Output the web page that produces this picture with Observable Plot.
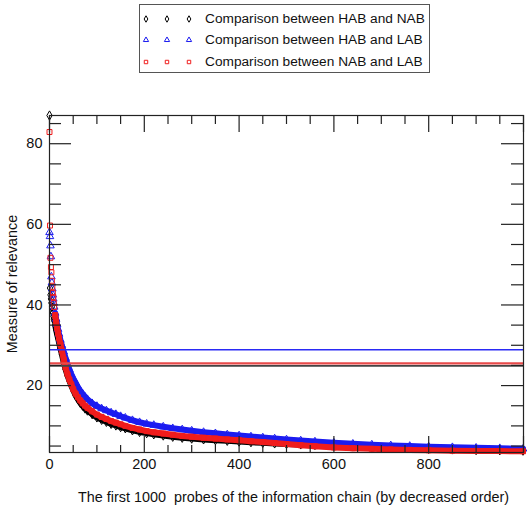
<!DOCTYPE html>
<html><head><meta charset="utf-8">
<script src="https://cdn.jsdelivr.net/npm/d3@7"></script>
<script src="https://cdn.jsdelivr.net/npm/@observablehq/plot@0.6"></script>
<style>
body{margin:0;background:#fff;font-family:"Liberation Sans",Arial,sans-serif;}
#legend{position:relative;height:90px;width:531px;}
#box{position:absolute;left:139px;top:4px;width:289px;height:67px;border:1.5px solid #555;}
.row{position:absolute;left:0;width:289px;height:20px;}
.row svg{position:absolute;left:0;top:0;}
.row span{position:absolute;left:65px;top:1px;font-size:13.7px;line-height:18px;color:#111;white-space:nowrap;}
</style>
</head><body>
<div id="legend"><div id="box"></div></div>
<div id="chart"></div>
<script>
const ranks = [0,1,2,3,4,5,6,7,8,9,10,12,14,16,18,20,23,26,30,34,38,42,46,50,55,60,65,70,75,80,90,100,110,120,130,140,150,160,175,190,205,220,240,260,280,300,325,350,375,400,425,450,475,500,530,560,600,640,680,720,760,800,850,900,950,999];
const habNab = [87,44.2,42.5,41.5,40.5,39.5,38.5,38,37.2,36.5,36,35,33.8,32.8,31.8,30.8,29.2,27.8,25.8,24,22.5,21.2,20,18.9,17.6,16.6,15.7,15.0,14.3,13.8,12.9,12.1,11.5,11.0,10.5,10.1,9.7,9.4,8.9,8.5,8.2,7.9,7.6,7.3,7.05,6.85,6.65,6.45,6.3,6.1,5.95,5.8,5.65,5.5,5.4,5.25,5.1,4.9,4.75,4.6,4.45,4.3,4.15,4.0,3.95,3.85];
const habLab = [58.0,57,54.7,52,47,45.5,44,42.5,41.5,40.5,39.5,38,36.5,35.2,34,32.8,31.3,30,28.4,26.8,25.3,24,22.8,21.8,20.7,19.6,18.7,17.9,17.2,16.6,15.6,14.9,14.3,13.8,13.3,12.9,12.4,12.0,11.4,10.9,10.5,10.2,9.8,9.4,9.1,8.8,8.45,8.15,7.85,7.6,7.35,7.1,6.85,6.6,6.35,6.1,5.8,5.55,5.35,5.15,5.0,4.85,4.7,4.55,4.45,4.3];
const nabLab = [82.9,59.7,51.7,49.4,48.1,46,44.5,43,42,40.5,39.5,37.5,35.8,34.3,33,31.8,30.2,28.7,26.5,24.5,22.8,21.5,20.3,19.1,18.0,17.1,16.3,15.6,15.0,14.5,13.6,12.8,12.2,11.7,11.2,10.8,10.4,10.0,9.5,9.1,8.7,8.4,8.1,7.8,7.5,7.3,7.05,6.85,6.65,6.45,6.2,6.0,5.75,5.5,5.2,4.95,4.65,4.45,4.3,4.15,4.05,3.95,3.85,3.8,3.75,3.7];
const seriesNames = ["Comparison between HAB and NAB","Comparison between HAB and LAB","Comparison between NAB and LAB"];
const seriesValues = [habNab, habLab, nabLab];
const seriesColors = ["#000000","#1c1cf0","#f01c1c"];
const ruleColors = ["#444444","#2a2af5","#e84a4a"];
const seriesSymbols = ["diamond","triangle","square"];
const thresholds = [24.9, 28.9, 25.5];
const xMajor = [0,200,400,600,800,1000];
const xMinor = [50,100,150,250,300,350,450,500,550,650,700,750,850,900,950];
const xLabels = [0,200,400,600,800];
const yMajor = [20,40,60,80];
const yMinor = [5,10,15,25,30,35,45,50,55,65,70,75,85];
const xTitle = "The first 1000  probes of the information chain (by decreased order)";
const yTitle = "Measure of relevance";

// legend
const box = d3.select("#box");
const rowTops = [4, 25, 47];
seriesNames.forEach((name, i) => {
  const row = box.append("div").attr("class","row").style("top", rowTops[i] + "px");
  const svg = row.append("svg").attr("width", 60).attr("height", 20);
  [6, 27, 49].forEach(cx => {
    svg.append("path")
      .attr("d", d3.symbol(i === 0 ? d3.symbolDiamond : i === 1 ? d3.symbolTriangle : d3.symbolSquare, 12)())
      .attr("transform", `translate(${cx},10)`)
      .attr("fill", "none").attr("stroke", seriesColors[i]).attr("stroke-width", 1);
  });
  row.append("span").text(name);
});

const rows = seriesValues.flatMap((vals, s) => ranks.map((r, i) => ({rank: r, value: vals[i], s})));

const W = 474, H = 337;
const marks = [];
// series: black, blue, red
[0,1,2].forEach(s => {
  const data = rows.filter(d => d.s === s);
  marks.push(Plot.line(data.filter(d => d.rank >= 12), {x: "rank", y: "value", stroke: seriesColors[s], strokeWidth: 6, strokeLinejoin: "round", strokeLinecap: "round"}));
  marks.push(Plot.dot(data, {x: "rank", y: "value", stroke: seriesColors[s], symbol: seriesSymbols[s], r: 2.8, strokeWidth: 1, fill: "none"}));
});
thresholds.forEach((t, s) => {
  marks.push(Plot.ruleY([t], {stroke: ruleColors[s], strokeWidth: s === 2 ? 2.2 : 1.6}));
});
// inner ticks on all four sides
marks.push(
  Plot.tickX(xMajor, {x: d => d, insetTop: H - 16, stroke: "#222", strokeWidth: 1.2}),
  Plot.tickX(xMinor, {x: d => d, insetTop: H - 7, stroke: "#222", strokeWidth: 1.2}),
  Plot.tickX(xMajor, {x: d => d, insetBottom: H - 17, stroke: "#222", strokeWidth: 1.2}),
  Plot.tickX(xMinor, {x: d => d, insetBottom: H - 9, stroke: "#222", strokeWidth: 1.2}),
  Plot.tickY(yMajor, {y: d => d, insetRight: W - 22, stroke: "#222", strokeWidth: 1.2}),
  Plot.tickY(yMinor, {y: d => d, insetRight: W - 12, stroke: "#222", strokeWidth: 1.2}),
  Plot.tickY(yMajor, {y: d => d, insetLeft: W - 22, stroke: "#222", strokeWidth: 1.2}),
  Plot.tickY(yMinor, {y: d => d, insetLeft: W - 12, stroke: "#222", strokeWidth: 1.2}),
  Plot.frame({stroke: "#222", strokeWidth: 1.2}),
  Plot.axisX(xLabels, {tickSize: 0, tickPadding: 6, fontSize: 14.5, label: null}),
  Plot.axisY(yMajor, {tickSize: 0, tickPadding: 7, fontSize: 14.5, label: null}),
  Plot.text([xTitle], {frameAnchor: "bottom", dy: 45, dx: 7, text: d => d, fontSize: 14.4, lineAnchor: "middle", textAnchor: "middle"}),
  Plot.text([yTitle], {frameAnchor: "left", dx: -37, rotate: -90, text: d => d, fontSize: 14.4, lineAnchor: "middle", textAnchor: "middle"})
);

const plot = Plot.plot({
  width: 531, height: 422,
  marginTop: 25, marginBottom: 60, marginLeft: 49, marginRight: 8,
  x: {domain: [0, 1000], axis: null},
  y: {domain: [3.4, 87], axis: null},
  style: {fontFamily: "'Liberation Sans', Arial, sans-serif", color: "#111", background: "#fff", whiteSpace: "pre"},
  marks
});
document.getElementById("chart").appendChild(plot);
</script>
</body></html>
